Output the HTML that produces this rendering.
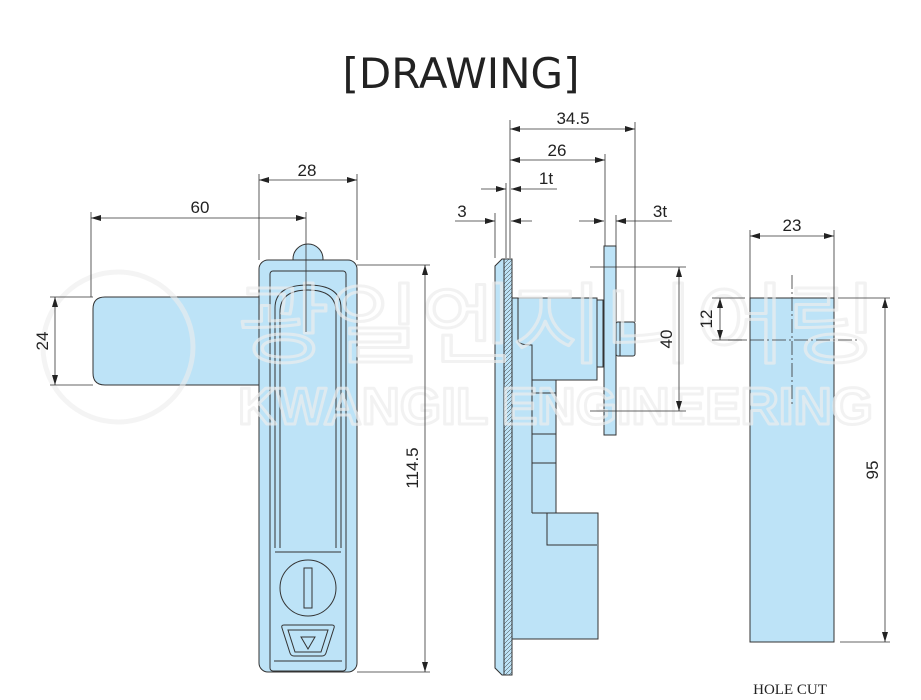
<!DOCTYPE html>
<html><head><meta charset="utf-8"><style>
html,body{margin:0;padding:0;background:#fff;width:921px;height:700px;overflow:hidden}
svg{display:block}
text{font-family:"Liberation Sans",sans-serif}
</style></head><body>
<svg width="921" height="700" viewBox="0 0 921 700" xmlns="http://www.w3.org/2000/svg">
<defs>
<marker id="a" viewBox="0 0 10 6" refX="10" refY="3" markerWidth="10" markerHeight="6" orient="auto-start-reverse" markerUnits="userSpaceOnUse"><path d="M0,0 L10,3 L0,6z" fill="#222"/></marker>
<pattern id="h" width="4" height="4" patternUnits="userSpaceOnUse"><rect width="4" height="4" fill="#bde3f7"/><path d="M0,4 L4,0" stroke="#333" stroke-width="0.5"/></pattern>
</defs>
<text x="461" y="88" font-size="42" text-anchor="middle" fill="#222" style="font-family:'DejaVu Sans',sans-serif">[DRAWING]</text>

<g stroke="#333" stroke-width="1" fill="#bde3f7">
<circle cx="308" cy="259" r="15"/>
<path d="M259,297 H105 Q93,297 93,309 V373 Q93,385 105,385 H259z"/>
<rect x="259" y="260" width="98" height="412" rx="9"/>
<rect x="270" y="271" width="76" height="400" rx="3" fill="none"/>
<path d="M275,548 V308 Q275,285 308,285 Q341,285 341,308 V548" fill="none"/>
<path d="M280,548 V312 Q280,290 308,290 Q336,290 336,312 V548" fill="none"/>
<line x1="275" y1="552" x2="341" y2="552"/>
<circle cx="308" cy="588" r="28"/>
<rect x="304" y="568" width="8" height="40" fill="none"/>
<path d="M284,625 H332 Q335,625 334,628 L326,653 Q325,656 322,656 H294 Q291,656 290,653 L282,628 Q281,625 284,625z" fill="none"/>
<path d="M288,630 H328 L321,652 H295z" fill="none"/>
<path d="M301,637 H315 L308,649z" fill="none"/>
<line x1="274" y1="661" x2="342" y2="661"/>
<path d="M512,298 H597 V380 H556 V513 H598 V639 H512z"/>
<path d="M518,298 V340 Q518,345 532,345 V380" fill="none"/>
<line x1="532" y1="380" x2="556" y2="380"/>
<line x1="532" y1="380" x2="532" y2="513"/>
<line x1="532" y1="393" x2="556" y2="393"/>
<line x1="532" y1="434" x2="556" y2="434"/>
<line x1="532" y1="463" x2="556" y2="463"/>
<line x1="532" y1="513" x2="556" y2="513"/>
<path d="M547,513 V545 H597" fill="none"/>
<rect x="597" y="300" width="6" height="67"/>
<rect x="604" y="246" width="12" height="189"/>
<rect x="616" y="322" width="19" height="34" rx="2"/>
<line x1="620" y1="322" x2="620" y2="356"/>
<path d="M495,266 L502,259 H504 V675 H502 L495,668z"/>
<rect x="504" y="259" width="8" height="416" fill="url(#h)"/>
<rect x="750" y="298" width="84" height="344"/>
</g>

<g fill="none" stroke-linejoin="round">
<circle cx="118" cy="347" r="75" stroke="#ececec" stroke-width="5" stroke-opacity="0.6"/>
<text x="238" y="424" font-size="52" font-weight="bold" textLength="635" lengthAdjust="spacingAndGlyphs" stroke="#ececec" stroke-width="3" stroke-opacity="0.7">KWANGIL ENGINEERING</text>
<text x="238" y="356" font-size="88" textLength="640" lengthAdjust="spacingAndGlyphs" stroke="#ececec" stroke-width="3" stroke-opacity="0.7" style="font-family:'Noto Sans CJK KR',sans-serif">광일엔지니어링</text>
</g>

<g stroke="#333" stroke-width="0.8" fill="none">
<line x1="91" y1="212" x2="91" y2="297"/>
<line x1="306" y1="212" x2="306" y2="332"/>
<line x1="91" y1="218" x2="306" y2="218" marker-start="url(#a)" marker-end="url(#a)"/>
<line x1="259" y1="174" x2="259" y2="260"/>
<line x1="357" y1="174" x2="357" y2="260"/>
<line x1="259" y1="180" x2="357" y2="180" marker-start="url(#a)" marker-end="url(#a)"/>
<line x1="50" y1="297" x2="93" y2="297"/>
<line x1="50" y1="385" x2="93" y2="385"/>
<line x1="55" y1="297" x2="55" y2="385" marker-start="url(#a)" marker-end="url(#a)"/>
<line x1="357" y1="265" x2="430" y2="265"/>
<line x1="357" y1="672" x2="430" y2="672"/>
<line x1="425" y1="265" x2="425" y2="672" marker-start="url(#a)" marker-end="url(#a)"/>
<line x1="510" y1="120" x2="510" y2="258"/>
<line x1="635" y1="122" x2="635" y2="322"/>
<line x1="605" y1="154" x2="605" y2="246"/>
<line x1="495" y1="213" x2="495" y2="258"/>
<line x1="506" y1="183" x2="506" y2="258"/>
<line x1="616" y1="215" x2="616" y2="246"/>
<line x1="510" y1="129" x2="635" y2="129" marker-start="url(#a)" marker-end="url(#a)"/>
<line x1="510" y1="160" x2="605" y2="160" marker-start="url(#a)" marker-end="url(#a)"/>
<line x1="481" y1="189" x2="506" y2="189" marker-end="url(#a)"/>
<line x1="557" y1="189" x2="511" y2="189" marker-end="url(#a)"/>
<line x1="455" y1="221" x2="495" y2="221" marker-end="url(#a)"/>
<line x1="532" y1="221" x2="511" y2="221" marker-end="url(#a)"/>
<line x1="579" y1="221" x2="604" y2="221" marker-end="url(#a)"/>
<line x1="672" y1="221" x2="616" y2="221" marker-end="url(#a)"/>
<line x1="590" y1="267" x2="686" y2="267"/>
<line x1="590" y1="411" x2="686" y2="411"/>
<line x1="679" y1="267" x2="679" y2="411" marker-start="url(#a)" marker-end="url(#a)"/>
<line x1="750" y1="230" x2="750" y2="298"/>
<line x1="834" y1="230" x2="834" y2="298"/>
<line x1="750" y1="236" x2="834" y2="236" marker-start="url(#a)" marker-end="url(#a)"/>
<line x1="712" y1="298" x2="745" y2="298"/>
<line x1="712" y1="340" x2="745" y2="340"/>
<line x1="720" y1="298" x2="720" y2="340" marker-start="url(#a)" marker-end="url(#a)"/>
<line x1="838" y1="298" x2="890" y2="298"/>
<line x1="840" y1="642" x2="890" y2="642"/>
<line x1="885" y1="298" x2="885" y2="642" marker-start="url(#a)" marker-end="url(#a)"/>
<line x1="728" y1="340" x2="858" y2="340" stroke-dasharray="14,3,2,3"/>
<line x1="792" y1="275" x2="792" y2="405" stroke-dasharray="14,3,2,3"/>
</g>

<g fill="#222" font-size="17" text-anchor="middle">
<text x="200" y="213">60</text>
<text x="307" y="176">28</text>
<text x="48" y="341" transform="rotate(-90 48 341)">24</text>
<text x="418" y="468" transform="rotate(-90 418 468)">114.5</text>
<text x="573" y="124">34.5</text>
<text x="557" y="156">26</text>
<text x="546" y="184">1t</text>
<text x="462" y="217">3</text>
<text x="660" y="217">3t</text>
<text x="672" y="339" transform="rotate(-90 672 339)">40</text>
<text x="792" y="231">23</text>
<text x="712" y="319" transform="rotate(-90 712 319)">12</text>
<text x="878" y="470" transform="rotate(-90 878 470)">95</text>
<text x="790" y="694" font-size="15" style="font-family:'Liberation Serif',serif">HOLE CUT</text>
</g>
</svg>
</body></html>
